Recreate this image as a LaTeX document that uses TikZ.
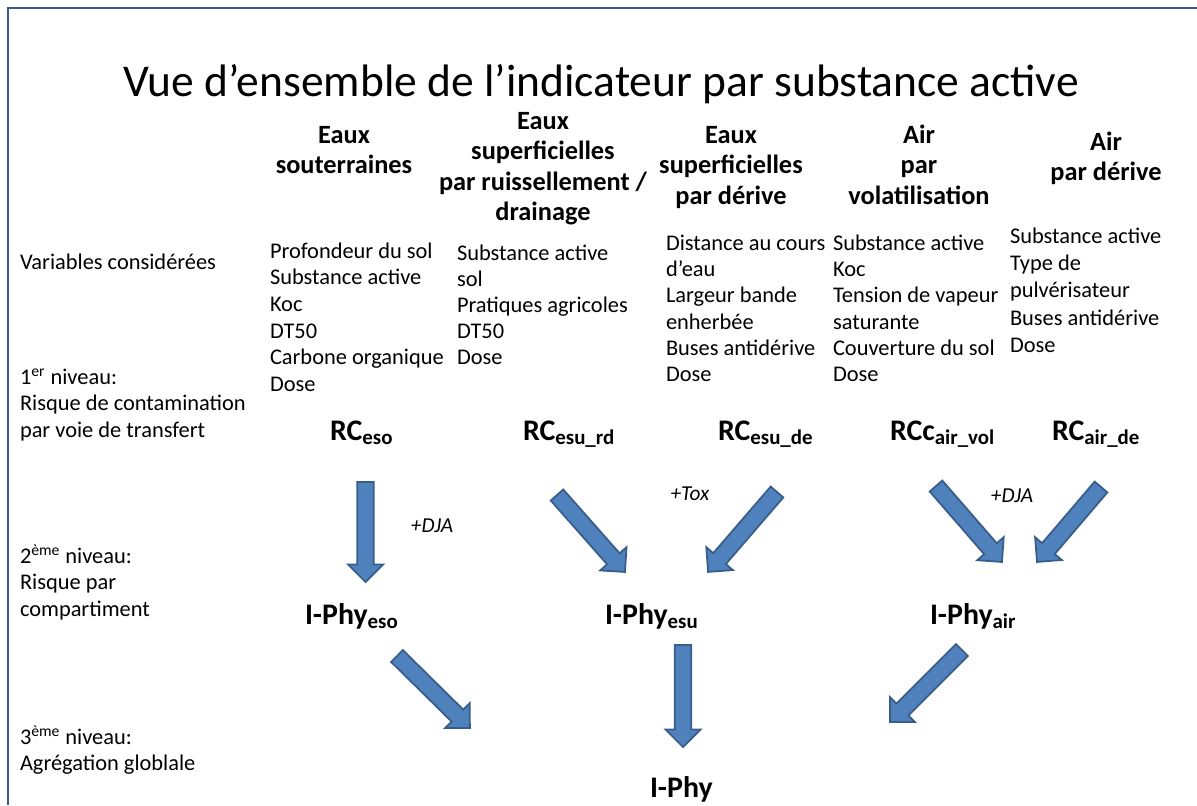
\documentclass[tikz,border=0pt]{standalone}
\usepackage{fontspec}
\setmainfont{Carlito}
\usetikzlibrary{calc,shapes.arrows}
\definecolor{framecol}{HTML}{3B5A8A}
\definecolor{arrfill}{HTML}{4F81BD}
\definecolor{arrline}{HTML}{385D8A}
\newcommand\titlefont{\fontsize{25.9}{30}\selectfont}
\newcommand\headfont{\fontsize{15}{17.4}\selectfont\bfseries}
\newcommand\lblfont{\fontsize{17}{20}\selectfont\bfseries}
\newcommand\noteit{\fontsize{12.1}{14}\selectfont\itshape}
\newcommand\vlist[2]{{\fontsize{12.75}{#1}\selectfont\begin{tabular}[t]{@{}l@{}}#2\end{tabular}}}
\newcommand\hlist[1]{\begin{tabular}[t]{@{}c@{}}#1\end{tabular}}
\newcommand\supx[1]{\smash{\textsuperscript{#1}}}
\begin{document}
\begin{tikzpicture}[x=0.02cm, y=-0.02cm,
  every node/.style={inner sep=0pt, outer sep=0pt},
  head/.style={anchor=base, font=\headfont},
  var/.style={anchor=base west},
  lbl/.style={anchor=base west, font=\lblfont},
  note/.style={anchor=base, font=\noteit},
  barrow/.style={single arrow, draw=arrline, fill=arrfill, line width=1pt,
    inner xsep=0pt, inner ysep=4.25pt, minimum width=19pt,
    single arrow head extend=5.25pt, single arrow tip angle=90,
    text height=0pt, text depth=0pt, anchor=tail}]
\useasboundingbox (0,0) rectangle (1197,805);
\draw[framecol, line width=1.7pt] (8,805) -- (8,8) -- (1197,8);

\node[anchor=base, font=\titlefont] (title) at (601,96) {Vue d’ensemble de l’indicateur par substance active};

\node[head] (h1) at (344,143) {\hlist{Eaux\\souterraines}};
\node[head] (h2) at (543,129) {\hlist{Eaux\\superficielles\\par ruissellement /\\drainage}};
\node[head] (h3) at (731,143) {\hlist{Eaux\\superficielles\\par dérive}};
\node[head] (h4) at (919,143) {\hlist{Air\\par\\volatilisation}};
\node[head] (h5) at (1106,150) {\hlist{Air\\par dérive}};

\node[var] (s0) at (20,269) {\vlist{15.1pt}{Variables considérées}};
\node[var] (s1) at (20,384) {\vlist{15.1pt}{1\supx{er} niveau:\\Risque de contamination\\par voie de transfert}};
\node[var] (s2) at (20,563) {\vlist{15.1pt}{2\supx{ème} niveau:\\Risque par\\compartiment}};
\node[var] (s3) at (20,744) {\vlist{15.1pt}{3\supx{ème} niveau:\\Agrégation globlale}};

\node[var] (c1) at (270,258) {\vlist{15.2pt}{Profondeur du sol\\Substance active\\Koc\\DT50\\Carbone organique\\Dose}};
\node[var] (c2) at (457,260) {\vlist{14.9pt}{Substance active\\sol\\Pratiques agricoles\\DT50\\Dose}};
\node[var] (c3) at (666,250) {\vlist{15pt}{Distance au cours\\d’eau\\Largeur bande\\enherbée\\Buses antidérive\\Dose}};
\node[var] (c4) at (833,250) {\vlist{15pt}{Substance active\\Koc\\Tension de vapeur\\saturante\\Couverture du sol\\Dose}};
\node[var] (c5) at (1010,243) {\vlist{15.6pt}{Substance active\\Type de\\pulvérisateur\\Buses antidérive\\Dose}};

\node[lbl] (rc1) at (330,440) {RC\textsubscript{eso}};
\node[lbl] (rc2) at (523,440) {RC\textsubscript{esu\_rd}};
\node[lbl] (rc3) at (718,440) {RC\textsubscript{esu\_de}};
\node[lbl] (rc4) at (890,440) {RCc\textsubscript{air\_vol}};
\node[lbl] (rc5) at (1052,440) {RC\textsubscript{air\_de}};

\node[lbl] (ip1) at (305,624) {I-Phy\textsubscript{eso}};
\node[lbl] (ip2) at (605,624) {I-Phy\textsubscript{esu}};
\node[lbl] (ip3) at (930,624) {I-Phy\textsubscript{air}};
\node[lbl] (ip) at (650,797) {I-Phy};

\node[note] (n1) at (432,532) {+DJA};
\node[note] (n2) at (690,500) {+Tox};
\node[note] (n3) at (1012,502) {+DJA};

\coordinate (a1) at (365.5,482); \coordinate (b1) at (365.5,582);
\coordinate (a2) at (557,495);   \coordinate (b2) at (625,572);
\coordinate (a3) at (777,492);   \coordinate (b3) at (708,572);
\coordinate (a4) at (936,486);   \coordinate (b4) at (1002,562);
\coordinate (a5) at (1101,487);  \coordinate (b5) at (1037,562);
\coordinate (a6) at (397,656);   \coordinate (b6) at (470,728);
\coordinate (a7) at (683,645);   \coordinate (b7) at (683,747);
\coordinate (a8) at (962,650);   \coordinate (b8) at (890,722);

\foreach \i in {1,...,8}{
  \path let \p1=($(b\i)-(a\i)$), \n1={veclen(\x1,\y1)}, \n2={atan2(\y1,\x1)} in
    node[barrow, minimum height=\n1, rotate=\n2] (arr\i) at (a\i) {};
}
\end{tikzpicture}
\end{document}
